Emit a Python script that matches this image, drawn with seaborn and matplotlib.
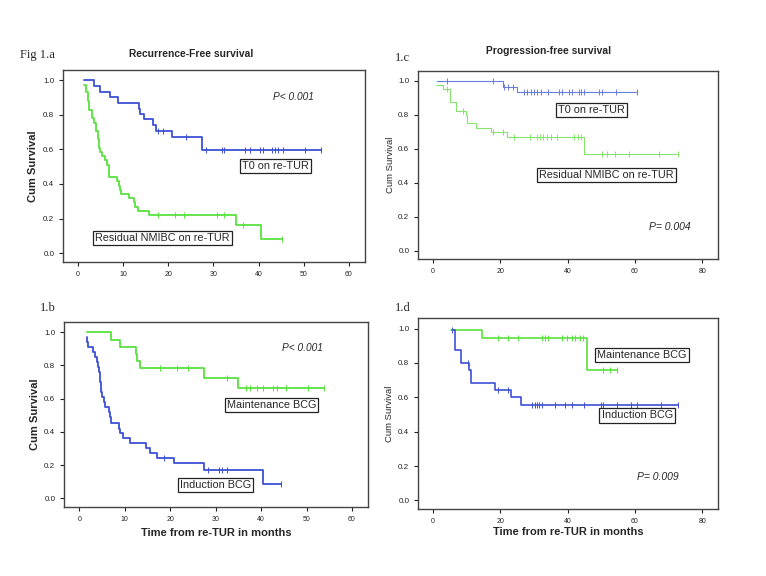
import numpy as np
import matplotlib.pyplot as plt
import seaborn as sns

# Kaplan-Meier steps: step start times, survival after each step,
# and censoring times (the small vertical ticks)

# 1.a Recurrence-free survival
a_t0_time = [1.3, 3.6, 4.75, 7.0, 8.9, 13.5, 13.8, 14.6, 16.6, 17.3, 20.9, 27.4, 53.9]
a_t0_surv = [1.0, 0.967, 0.934, 0.902, 0.870, 0.836, 0.806, 0.774, 0.742, 0.709, 0.674, 0.595, 0.595]
a_t0_cens = [17.7, 18.7, 24.0, 28.4, 31.8, 32.4, 37.1, 38.0, 40.3, 41.0, 42.9, 43.7, 44.2,
             45.5, 50.3, 53.9]
a_res_time = [1.4, 1.8, 2.1, 2.5, 3.0, 3.6, 4.0, 4.3, 4.6, 4.9, 5.3, 5.9, 6.3, 6.9, 8.6, 9.0,
              9.2, 9.6, 11.2, 12.3, 12.6, 13.3, 15.6, 35.1, 40.5, 45.3]
a_res_surv = [0.976, 0.93, 0.88, 0.83, 0.78, 0.756, 0.707, 0.66, 0.61, 0.585, 0.56, 0.537, 0.51,
              0.44, 0.415, 0.39, 0.366, 0.341, 0.317, 0.293, 0.268, 0.244, 0.22, 0.165, 0.082, 0.082]
a_res_cens = [17.6, 21.4, 23.5, 30.8, 32.3, 36.6, 45.3]

# 1.c Progression-free survival
c_t0_time = [1.2, 20.9, 24.9, 60.5]
c_t0_surv = [1.0, 0.967, 0.932, 0.932]
c_t0_cens = [4.0, 17.9, 21.1, 22.4, 23.9, 27.1, 28.0, 29.0, 30.0, 31.0, 32.0, 34.1, 37.3, 38.3,
             40.4, 41.2, 43.3, 44.1, 45.0, 49.4, 50.3, 54.3, 60.5]
c_res_time = [1.0, 3.0, 5.0, 6.9, 9.7, 10.0, 12.9, 17.2, 22.1, 45.0, 72.7]
c_res_surv = [0.975, 0.95, 0.875, 0.825, 0.80, 0.75, 0.725, 0.70, 0.667, 0.567, 0.567]
c_res_cens = [4.0, 8.9, 17.9, 20.9, 24.1, 28.9, 30.8, 31.8, 32.8, 33.8, 35.2, 36.9, 41.8, 43.2,
              44.1, 50.1, 51.6, 54.2, 58.1, 67.3, 72.7]

# 1.b Recurrence-free survival by BCG schedule
b_mnt_time = [1.8, 7.0, 8.9, 12.4, 12.8, 13.4, 27.4, 35.0, 53.9]
b_mnt_surv = [1.0, 0.956, 0.913, 0.870, 0.826, 0.783, 0.725, 0.667, 0.667]
b_mnt_cens = [17.7, 21.5, 24.0, 32.5, 36.7, 37.5, 39.0, 40.4, 42.6, 43.4, 45.5, 50.4, 53.9]
b_ind_time = [1.7, 1.8, 2.0, 3.0, 3.5, 3.8, 4.2, 4.4, 4.5, 4.6, 4.7, 4.8, 5.0, 5.5, 5.6, 6.5,
              6.8, 7.0, 8.8, 8.9, 9.7, 11.2, 14.6, 15.6, 17.2, 20.8, 27.4, 40.4, 44.3]
b_ind_surv = [0.97, 0.94, 0.91, 0.88, 0.85, 0.82, 0.79, 0.76, 0.73, 0.70, 0.67, 0.64, 0.61,
              0.58, 0.55, 0.52, 0.49, 0.455, 0.42, 0.394, 0.364, 0.334, 0.303, 0.273, 0.242,
              0.212, 0.172, 0.086, 0.086]
b_ind_cens = [18.6, 28.4, 30.7, 31.4, 32.4, 44.3]

# 1.d Progression-free survival by BCG schedule
d_mnt_time = [5.4, 14.5, 45.9, 54.8]
d_mnt_surv = [0.99, 0.945, 0.757, 0.757]
d_mnt_cens = [19.2, 22.2, 25.1, 32.3, 33.3, 34.2, 38.3, 39.8, 41.2, 42.2, 43.7, 44.7, 50.6,
              52.6, 54.8]
d_ind_time = [5.6, 6.4, 8.4, 10.6, 11.4, 18.3, 23.2, 26.2, 72.7]
d_ind_surv = [0.99, 0.875, 0.80, 0.757, 0.683, 0.643, 0.60, 0.555, 0.555]
d_ind_cens = [5.6, 10.3, 19.2, 22.3, 29.4, 30.2, 30.9, 31.6, 32.5, 36.1, 39.3, 41.2, 45.0,
              49.9, 50.6, 54.8, 58.8, 60.7, 67.7, 72.7]

sns.set_style("ticks")
plt.rcParams["font.family"] = ["Liberation Sans", "DejaVu Sans"]

BLUE = "#3d50d4"
GREEN = "#58e23e"
W, H = 766, 576

fig = plt.figure(figsize=(W / 100, H / 100), dpi=100)


def px_axes(l, t, r, b):
    return fig.add_axes([l / W, 1 - b / H, (r - l) / W, (b - t) / H])


def surv_at(time, surv, t):
    idx = np.searchsorted(time, t, side="right") - 1
    return np.asarray(surv)[idx]


def km(ax, time, surv, cens, color, lw):
    sns.lineplot(x=time, y=surv, drawstyle="steps-post", color=color, lw=lw,
                 estimator=None, sort=False, ax=ax)
    sns.scatterplot(x=cens, y=surv_at(time, surv, cens), marker="|", s=20,
                    color=color, linewidth=0.7, ax=ax)


def style(ax, xmax, xticks, bold, lbl_x):
    ax.set_xlim(-xmax * 0.055, xmax * 1.06)
    ax.set_ylim(-0.05, 1.06)
    ax.set_xticks(xticks)
    ax.set_yticks([0, 0.2, 0.4, 0.6, 0.8, 1.0])
    ax.set_yticklabels(["0.0", "0.2", "0.4", "0.6", "0.8", "1.0"])
    ax.tick_params(length=3, width=0.8, colors="#222")
    ax.tick_params(axis="x", labelsize=5)
    ax.tick_params(axis="y", labelsize=5.8)
    for s in ax.spines.values():
        s.set_color("#444")
        s.set_linewidth(1.0)
    ax.set_ylabel("Cum Survival", fontsize=8 if bold else 6.8,
                  fontweight="bold" if bold else "normal")
    ax.yaxis.set_label_coords(lbl_x, 0.5)
    ax.set_xlabel("")


def boxed(ax, x, y, s):
    ax.text(x, y, s, fontsize=7.8, ha="center", va="center",
            bbox=dict(boxstyle="square,pad=0.2", fc="white", ec="#222", lw=0.9))


# 1.a
ax = px_axes(63.3, 70, 365, 261.7)
km(ax, a_t0_time, a_t0_surv, a_t0_cens, BLUE, 1.3)
km(ax, a_res_time, a_res_surv, a_res_cens, GREEN, 1.3)
style(ax, 60, range(0, 61, 10), True, -0.084)
boxed(ax, 43.7, 0.503, "T0 on re-TUR")
boxed(ax, 18.75, 0.089, "Residual NMIBC on re-TUR")
ax.text(47.8, 0.903, "P< 0.001", fontsize=7.3, style="italic", ha="center", va="center")

# 1.c
ax = px_axes(418.3, 70.7, 718.3, 259.3)
km(ax, c_t0_time, c_t0_surv, c_t0_cens, "#6a7ee0", 0.8)
km(ax, c_res_time, c_res_surv, c_res_cens, "#86e46e", 0.8)
style(ax, 80, range(0, 81, 20), False, -0.078)
boxed(ax, 47.1, 0.827, "T0 on re-TUR")
boxed(ax, 51.6, 0.448, "Residual NMIBC on re-TUR")
ax.text(70.3, 0.139, "P= 0.004", fontsize=7.5, style="italic", ha="center", va="center")

# 1.b
ax = px_axes(64.3, 322.3, 368.3, 506.7)
km(ax, b_mnt_time, b_mnt_surv, b_mnt_cens, GREEN, 1.3)
km(ax, b_ind_time, b_ind_surv, b_ind_cens, BLUE, 1.3)
style(ax, 60, range(0, 61, 10), True, -0.08)
boxed(ax, 42.3, 0.563, "Maintenance BCG")
boxed(ax, 30.0, 0.082, "Induction BCG")
ax.text(49.0, 0.906, "P< 0.001", fontsize=7.3, style="italic", ha="center", va="center")
ax.set_xlabel("Time from re-TUR in months", fontsize=8, fontweight="bold")
ax.xaxis.set_label_coords(0.5, -0.145)
ax.xaxis.label.set_va("center")

# 1.d
ax = px_axes(418.3, 318.3, 718.3, 509)
km(ax, d_mnt_time, d_mnt_surv, d_mnt_cens, GREEN, 1.2)
km(ax, d_ind_time, d_ind_surv, d_ind_cens, BLUE, 1.2)
style(ax, 80, range(0, 81, 20), False, -0.081)
boxed(ax, 62.1, 0.845, "Maintenance BCG")
boxed(ax, 60.7, 0.495, "Induction BCG")
ax.text(66.9, 0.139, "P= 0.009", fontsize=7.5, style="italic", ha="center", va="center")
ax.set_xlabel("Time from re-TUR in months", fontsize=8, fontweight="bold")
ax.xaxis.set_label_coords(0.5, -0.123)
ax.xaxis.label.set_va("center")

# panel tags and titles
serif = ["Liberation Serif", "DejaVu Serif"]
fig.text(20 / W, 1 - 57.7 / H, "Fig 1.a", family=serif, fontsize=9, va="baseline")
fig.text(395 / W, 1 - 61 / H, "1.c", family=serif, fontsize=9, va="baseline")
fig.text(40 / W, 1 - 311 / H, "1.b", family=serif, fontsize=9, va="baseline")
fig.text(395 / W, 1 - 311 / H, "1.d", family=serif, fontsize=9, va="baseline")
fig.text(191.5 / W, 1 - 56.7 / H, "Recurrence-Free survival", fontsize=7.4,
         fontweight="bold", ha="center", va="baseline")
fig.text(549 / W, 1 - 54.3 / H, "Progression-free survival", fontsize=7.4,
         fontweight="bold", ha="center", va="baseline")

fig.savefig("out.png", dpi=100, facecolor="white")
